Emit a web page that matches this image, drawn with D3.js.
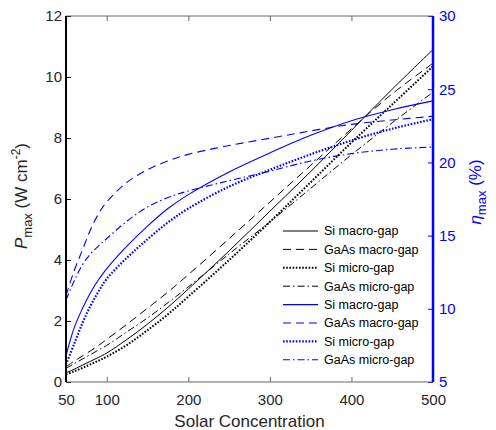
<!DOCTYPE html>
<html>
<head>
<meta charset="utf-8">
<script src="https://cdn.jsdelivr.net/npm/d3@7"></script>
<style>
  body { margin: 0; background: #fff; }
  text { font-family: "Liberation Sans", Arial, sans-serif; }
</style>
</head>
<body>
<svg width="496" height="430"></svg>
<script>
// solar concentration (x values shared by every curve)
var conc = [50, 60, 70, 80, 90, 100, 125, 150, 175, 200, 250, 300, 350, 400, 450, 500];

// max power density, W cm^-2 (left axis, black)
var pSiMacro   = [0.30, 0.42, 0.55, 0.68, 0.81, 0.95, 1.40, 1.90, 2.45, 3.05, 4.30, 5.60, 6.90, 8.25, 9.60, 10.90];
var pGaAsMacro = [0.50, 0.68, 0.85, 1.02, 1.20, 1.40, 1.90, 2.42, 2.95, 3.52, 4.70, 5.90, 7.10, 8.30, 9.45, 10.45];
var pSiMicro   = [0.25, 0.35, 0.46, 0.58, 0.70, 0.83, 1.22, 1.70, 2.22, 2.80, 4.00, 5.25, 6.55, 7.85, 9.10, 10.35];
var pGaAsMicro = [0.45, 0.60, 0.75, 0.90, 1.05, 1.20, 1.65, 2.10, 2.60, 3.12, 4.20, 5.25, 6.35, 7.45, 8.50, 9.50];

// max efficiency, % (right axis, blue)
var eSiMacro   = [6.8, 8.7, 10.0, 11.1, 12.0, 12.75, 14.3, 15.65, 16.85, 17.8, 19.35, 20.65, 21.85, 22.85, 23.6, 24.2];
var eGaAsMacro = [10.9, 12.6, 14.0, 15.4, 16.5, 17.3, 18.65, 19.5, 20.1, 20.55, 21.15, 21.65, 22.15, 22.6, 22.9, 23.15];
var eSiMicro   = [6.2, 7.6, 9.0, 10.2, 11.2, 12.05, 13.5, 14.75, 15.9, 16.85, 18.35, 19.5, 20.55, 21.5, 22.3, 22.95];
var eGaAsMicro = [10.6, 11.9, 13.0, 13.75, 14.3, 14.8, 16.0, 16.95, 17.6, 18.05, 18.75, 19.4, 20.1, 20.6, 20.9, 21.05];

var xTicks = [50, 100, 200, 300, 400, 500];
var yLeftTicks = [0, 2, 4, 6, 8, 10, 12];
var yRightTicks = [5, 10, 15, 20, 25, 30];
var names = ["Si macro-gap", "GaAs macro-gap", "Si micro-gap", "GaAs micro-gap"];

var svg = d3.select("svg"),
    margin = {top: 16, right: 63, bottom: 48, left: 66},
    width = svg.attr("width") - margin.left - margin.right,
    height = svg.attr("height") - margin.top - margin.bottom,
    g = svg.append("g").attr("transform", "translate(" + margin.left + "," + margin.top + ")");

var BLUE = "#0000ff";

var x = d3.scaleLinear().domain([50, 500]).range([0, width]),
    yL = d3.scaleLinear().domain([0, 12]).range([height, 0]),
    yR = d3.scaleLinear().domain([5, 30]).range([height, 0]);

// line styles, same order as names
var dashes = [null, "8,5", "1.6,1.6", "7,3,1.5,3"];
var widths = [1, 1, 2, 1];

var series = [
  {vals: pSiMacro, axis: yL, color: "#000"},
  {vals: pGaAsMacro, axis: yL, color: "#000"},
  {vals: pSiMicro, axis: yL, color: "#000"},
  {vals: pGaAsMicro, axis: yL, color: "#000"},
  {vals: eSiMacro, axis: yR, color: BLUE},
  {vals: eGaAsMacro, axis: yR, color: BLUE},
  {vals: eSiMicro, axis: yR, color: BLUE},
  {vals: eGaAsMicro, axis: yR, color: BLUE}
];

series.forEach(function(s, i) {
  var line = d3.line()
    .curve(d3.curveCatmullRom.alpha(0.5))
    .x(function(d, j) { return x(conc[j]); })
    .y(function(d) { return s.axis(d); });
  g.append("path")
    .attr("d", line(s.vals))
    .attr("fill", "none")
    .attr("stroke", s.color)
    .attr("stroke-width", s.color == BLUE ? widths[i % 4] * 1.1 : widths[i % 4])
    .attr("stroke-dasharray", dashes[i % 4]);
});

// axes with inward ticks
var xAxis = g.append("g")
  .attr("transform", "translate(0," + height + ")")
  .call(d3.axisBottom(x).tickValues(xTicks).tickSizeInner(-5).tickSizeOuter(0).tickPadding(12));
xAxis.selectAll("line").attr("stroke", "#666");

var xTop = g.append("g")
  .call(d3.axisTop(x).tickValues(xTicks).tickSizeInner(-5).tickSizeOuter(0).tickFormat(""));
xTop.selectAll("line").attr("stroke", "#666");

var yAxisL = g.append("g")
  .call(d3.axisLeft(yL).tickValues(yLeftTicks).tickSizeInner(-5).tickSizeOuter(0).tickPadding(4));
yAxisL.selectAll("line").attr("stroke", "#000");

var yAxisR = g.append("g")
  .attr("transform", "translate(" + width + ",0)")
  .call(d3.axisRight(yR).tickValues(yRightTicks).tickSizeInner(-5).tickSizeOuter(0).tickPadding(6));
yAxisR.selectAll("line").attr("stroke", BLUE);

g.selectAll(".domain").remove();
g.selectAll(".tick text").attr("font-size", 15).attr("font-family", "Liberation Sans, Arial, sans-serif");
xAxis.selectAll("text").attr("fill", "#262626");
yAxisL.selectAll("text").attr("fill", "#262626");
yAxisR.selectAll("text").attr("fill", BLUE);

// frame
g.append("line").attr("x1", 0).attr("x2", width).attr("y1", 0).attr("y2", 0).attr("stroke", "#666");
g.append("line").attr("x1", 0).attr("x2", width).attr("y1", height).attr("y2", height).attr("stroke", "#666");
g.append("line").attr("x1", 0).attr("x2", 0).attr("y1", 0).attr("y2", height).attr("stroke", "#000").attr("stroke-width", 2);
g.append("line").attr("x1", width).attr("x2", width).attr("y1", 0).attr("y2", height).attr("stroke", BLUE).attr("stroke-width", 2.5);

// x label
svg.append("text")
  .attr("x", margin.left + width / 2)
  .attr("y", 427)
  .attr("text-anchor", "middle")
  .attr("font-size", 17)
  .attr("fill", "#262626")
  .text("Solar Concentration");

// left label: P_max (W cm^-2)
var lt = svg.append("text")
  .attr("transform", "translate(27,196) rotate(-90)")
  .attr("text-anchor", "middle")
  .attr("font-size", 17)
  .attr("fill", "#262626");
lt.append("tspan").attr("font-style", "italic").text("P");
lt.append("tspan").attr("font-size", 13).attr("dy", 5).text("max");
lt.append("tspan").attr("dy", -5).text(" (W cm");
lt.append("tspan").attr("font-size", 12).attr("dy", -7).text("-2");
lt.append("tspan").attr("dy", 7).text(")");

// right label: eta_max (%)
var rt = svg.append("text")
  .attr("transform", "translate(481,192) rotate(-90)")
  .attr("text-anchor", "middle")
  .attr("font-size", 17)
  .attr("fill", BLUE);
rt.append("tspan").attr("font-style", "italic").text("η");
rt.append("tspan").attr("font-size", 13).attr("dy", 5).text("max");
rt.append("tspan").attr("dy", -5).text(" (%)");

// legend
var legend = svg.append("g").attr("transform", "translate(283,231)");
series.forEach(function(s, i) {
  var row = legend.append("g").attr("transform", "translate(0," + (i * 18.4) + ")");
  row.append("line")
    .attr("x1", 0).attr("x2", 35)
    .attr("stroke", s.color)
    .attr("stroke-width", s.color == BLUE ? widths[i % 4] * 1.1 : widths[i % 4])
    .attr("stroke-dasharray", dashes[i % 4]);
  row.append("text")
    .attr("x", 41)
    .attr("dy", "0.35em")
    .attr("font-size", 12.5)
    .attr("fill", "#000")
    .text(names[i % 4]);
});
</script>
</body>
</html>
